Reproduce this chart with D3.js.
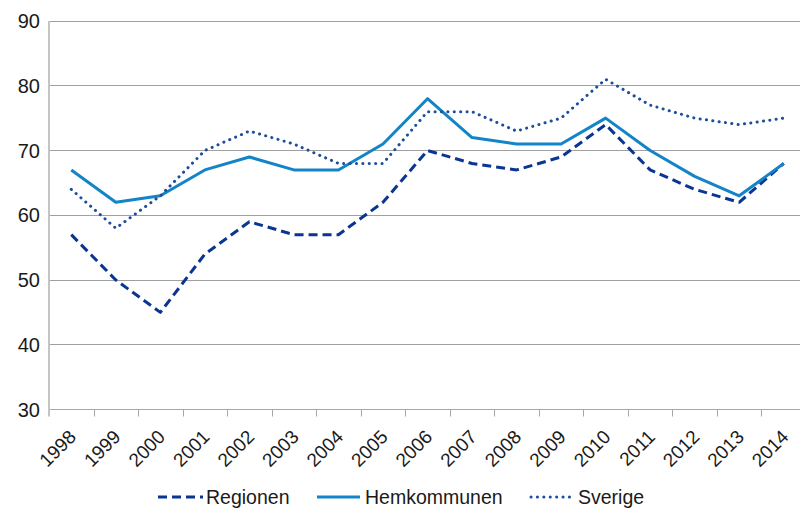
<!DOCTYPE html>
<html><head><meta charset="utf-8">
<script src="https://cdn.jsdelivr.net/npm/d3@7"></script>
<style>body{margin:0;background:#fff;} svg{display:block;font-family:"Liberation Sans",Arial,sans-serif;}</style>
</head><body>
<svg id="c" width="800" height="510"></svg>
<script>
const years = ["1998","1999","2000","2001","2002","2003","2004","2005","2006","2007","2008","2009","2010","2011","2012","2013","2014"];
const regionen = [57,50,45,54,59,57,57,62,70,68,67,69,74,67,64,62,68];
const hemkommunen = [67,62,63,67,69,67,67,71,78,72,71,71,75,70,66,63,68];
const sverige = [64,58,63,70,73,71,68,68,76,76,73,75,81,77,75,74,75];
const yTicks = [30,40,50,60,70,80,90];
const seriesNames = ["Regionen","Hemkommunen","Sverige"];

const svg = d3.select("#c");
const L = 49, R = 806, T = 21, B = 409.5;
const x = d3.scaleBand().domain(years).range([L, R]);
const y = d3.scaleLinear().domain([30, 90]).range([B, T]);

// gridlines
svg.append("g").selectAll("line").data(yTicks.filter(d => d > 30)).join("line")
  .attr("x1", L).attr("x2", 800).attr("y1", d => y(d)).attr("y2", d => y(d))
  .attr("stroke", "#a0a0a0").attr("stroke-width", 1).attr("shape-rendering","crispEdges");

// axes lines
svg.append("line").attr("x1", L).attr("x2", 800).attr("y1", y(30)).attr("y2", y(30))
  .attr("stroke", "#a8a8a8").attr("stroke-width", 1).attr("shape-rendering","crispEdges");
svg.append("line").attr("x1", L).attr("x2", L).attr("y1", T).attr("y2", B + 7)
  .attr("stroke", "#c4c4c4").attr("stroke-width", 2);

// x ticks at band boundaries
svg.append("g").selectAll("line").data(years.slice(1)).join("line")
  .attr("x1", d => Math.round(x(d)) + 0.5).attr("x2", d => Math.round(x(d)) + 0.5)
  .attr("y1", B).attr("y2", B + 7).attr("stroke", "#a8a8a8").attr("stroke-width", 1);

// y labels
svg.append("g").selectAll("text").data(yTicks).join("text")
  .attr("x", 40).attr("y", d => y(d)).attr("dy", "0.36em").attr("text-anchor", "end")
  .attr("font-size", 20).attr("fill", "#1a1a1a").text(d => d);

// x labels
svg.append("g").selectAll("text").data(years).join("text")
  .attr("text-anchor", "end").attr("font-size", 19).attr("fill", "#1a1a1a")
  .attr("transform", d => `translate(${x(d) + x.bandwidth()/2 + 6},438) rotate(-45)`)
  .text(d => d);

const line = d3.line().x((d, i) => x(years[i]) + x.bandwidth()/2).y(d => y(d));
const styles = [
  {data: regionen, color: "#0a3590", dash: "9,5", cap: "butt"},
  {data: hemkommunen, color: "#1384c8", dash: null, cap: "butt"},
  {data: sverige, color: "#1c4e9a", dash: "0.1,6.3", cap: "round"}
];
styles.forEach(s => {
  svg.append("path").datum(s.data).attr("d", line).attr("fill", "none")
    .attr("stroke", s.color).attr("stroke-width", 3)
    .attr("stroke-dasharray", s.dash).attr("stroke-linecap", s.cap).attr("stroke-linejoin", "round");
});

// legend
const legendPos = [{x1:158,x2:203,tx:206},{x1:317,x2:360,tx:365},{x1:531,x2:570,tx:578}];
seriesNames.forEach((n, i) => {
  const s = styles[i], p = legendPos[i];
  svg.append("line").attr("x1", p.x1).attr("x2", p.x2).attr("y1", 497).attr("y2", 497)
    .attr("stroke", s.color).attr("stroke-width", 3).attr("stroke-dasharray", s.dash).attr("stroke-linecap", s.cap);
  svg.append("text").attr("x", p.tx).attr("y", 504).attr("font-size", 19.5).attr("fill", "#1a1a1a").text(n);
});
</script>
</body></html>
